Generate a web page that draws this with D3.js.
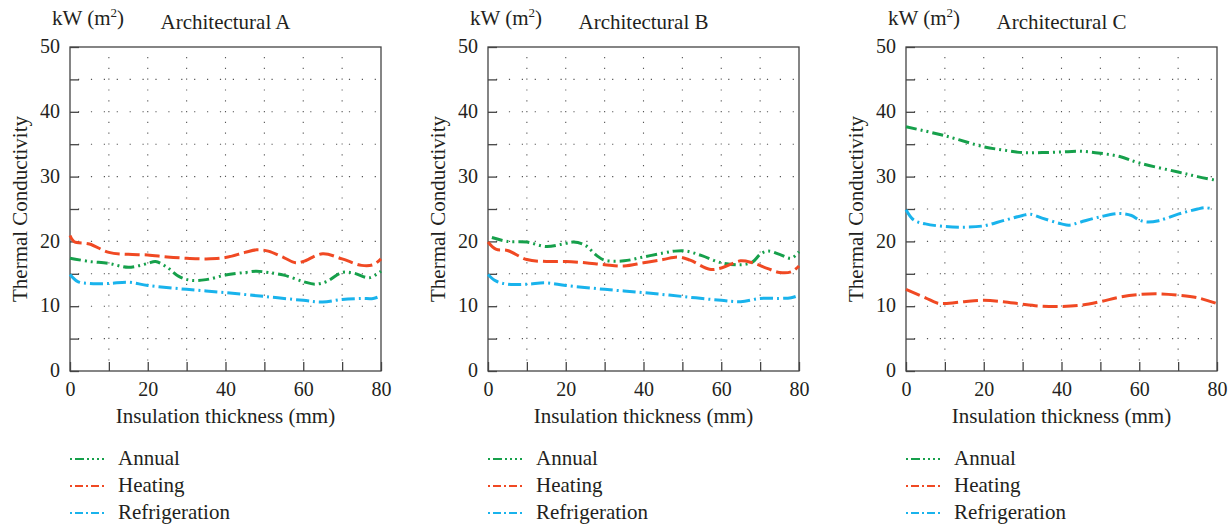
<!DOCTYPE html>
<html lang="en">
<head>
  <meta charset="UTF-8">
  <title>Thermal conductivity</title>
  <script src="https://cdn.jsdelivr.net/npm/d3@7"></script>
  <style>
  body { margin: 0; background: #fff; }
  .axis path, .axis line { stroke: #444; }
  </style>
</head>
<body>
  <svg id="chart" width="1232" height="527"></svg>
  <script>
  // [insulation thickness (mm), value]
  const annualA = [[0,17.4],[5,16.9],[10,16.6],[15,16.0],[20,16.6],[22,16.9],[25,16.0],[28,14.6],[31,14.0],[35,14.1],[40,14.8],[45,15.2],[48,15.4],[51,15.2],[55,14.8],[60,13.8],[63,13.4],[66,13.8],[70,15.2],[73,15.1],[77,14.4],[80,15.4]];
  const heatingA = [[0,20.9],[1,20.0],[5,19.6],[10,18.3],[15,18.0],[20,17.9],[25,17.6],[30,17.4],[35,17.3],[40,17.5],[45,18.3],[48,18.7],[51,18.5],[55,17.5],[58,16.7],[60,16.9],[65,18.1],[70,17.3],[75,16.3],[78,16.4],[80,17.3]];
  const refrigA = [[0,14.9],[2,13.8],[5,13.5],[10,13.5],[15,13.7],[20,13.2],[30,12.6],[40,12.1],[50,11.5],[60,10.9],[65,10.65],[70,11.05],[75,11.2],[78,11.2],[80,11.6]];

  const annualB = [[1,20.6],[5,20.0],[10,19.9],[15,19.2],[20,19.7],[22,19.9],[25,19.4],[28,17.8],[30,17.1],[35,17.0],[40,17.6],[45,18.2],[48,18.5],[51,18.5],[55,17.8],[60,16.7],[65,16.4],[68,16.8],[70,18.0],[72,18.5],[75,18.0],[78,17.4],[80,18.4]];
  const heatingB = [[0,19.9],[2,18.8],[5,18.6],[10,17.2],[15,16.9],[20,16.9],[25,16.7],[30,16.4],[35,16.2],[40,16.7],[45,17.2],[49,17.6],[52,17.1],[57,15.7],[60,15.9],[65,17.0],[68,16.7],[72,15.8],[75,15.2],[78,15.3],[80,16.2]];
  const refrigB = [[0,14.9],[2,13.9],[5,13.4],[10,13.4],[15,13.6],[20,13.2],[30,12.6],[40,12.1],[50,11.5],[60,10.9],[65,10.7],[70,11.2],[75,11.2],[78,11.3],[80,11.7]];

  const annualC = [[0,37.7],[10,36.3],[20,34.6],[25,34.1],[30,33.7],[35,33.7],[40,33.8],[45,33.9],[50,33.6],[55,33.1],[60,32.1],[70,30.7],[75,30.0],[80,29.4]];
  const heatingC = [[0,12.6],[5,11.3],[8,10.5],[10,10.4],[15,10.7],[20,10.9],[25,10.7],[30,10.3],[35,10.0],[40,9.95],[45,10.15],[50,10.7],[55,11.4],[60,11.8],[65,11.9],[70,11.7],[75,11.3],[80,10.4]];
  const refrigC = [[0,24.9],[2,23.3],[5,22.7],[10,22.3],[15,22.2],[20,22.4],[25,23.2],[30,24.0],[32,24.2],[35,23.6],[40,22.7],[42,22.5],[45,23.0],[50,23.8],[55,24.3],[58,24.0],[60,23.3],[62,23.0],[65,23.2],[70,24.2],[75,25.0],[77,25.2],[79,25.0]];

  const panelTitles = ['Architectural A', 'Architectural B', 'Architectural C'];
  const seriesNames = ['Annual', 'Heating', 'Refrigeration'];
  const panelData = [
    [annualA, heatingA, refrigA],
    [annualB, heatingB, refrigB],
    [annualC, heatingC, refrigC]
  ];
  const xTicks = [0, 20, 40, 60, 80];
  const yTicks = [0, 10, 20, 30, 40, 50];

  const colors = ['#16a04b', '#f04923', '#19b3ec'];
  const dashes = ['11,4,2,4,2,4', '15,5', '13,4,2,4'];
  const legendDashes = ['2,3,9,3,2,3,2,3', '2,3,8,3', '2,3,8,3'];
  const FONT = '"Liberation Serif", "Times New Roman", serif';
  const INK = '#231f20';

  const svg = d3.select('#chart');
  const panelLeft = [70, 488, 906];
  const plotW = 311, plotTop = 47, plotBottom = 371;

  const addText = (g, x, y, size, str, anchor) =>
    g.append('text').attr('x', x).attr('y', y)
      .attr('font-size', size).attr('text-anchor', anchor || 'start')
      .style('font-family', FONT).style('fill', INK).text(str);

  panelData.forEach((series, p) => {
    const g = svg.append('g').attr('transform', `translate(${panelLeft[p]},0)`);
    const x = d3.scaleLinear().domain([0, 80]).range([0, plotW]);
    const y = d3.scaleLinear().domain([0, 50]).range([plotBottom, plotTop]);

    // dotted grid
    d3.range(10, 80, 10).forEach(v => {
      g.append('line')
        .attr('x1', x(v)).attr('x2', x(v)).attr('y1', plotTop + 10).attr('y2', plotBottom - 8)
        .attr('stroke', '#555').attr('stroke-width', 1.1)
        .attr('stroke-dasharray', '1.2,9.6');
    });
    d3.range(5, 50, 5).forEach(v => {
      g.append('line')
        .attr('x1', 8).attr('x2', plotW - 4).attr('y1', y(v)).attr('y2', y(v))
        .attr('stroke', '#555').attr('stroke-width', 1.1)
        .attr('stroke-dasharray', '1.2,11.7');
    });

    // frame
    g.append('rect')
      .attr('x', 0).attr('y', plotTop).attr('width', plotW).attr('height', plotBottom - plotTop)
      .attr('fill', 'none').attr('stroke', '#444').attr('stroke-width', 1.3);

    // axes (inner ticks)
    g.append('g').attr('class', 'axis')
      .attr('transform', `translate(0,${plotBottom})`)
      .call(d3.axisBottom(x).tickValues(d3.range(0, 81, 10)).tickSizeInner(-9).tickSizeOuter(0)
        .tickFormat(d => xTicks.includes(d) ? d : ''))
      .call(a => a.select('.domain').remove())
      .call(a => a.selectAll('line').attr('stroke-width', 1.3))
      .call(a => a.selectAll('text').attr('font-size', 20).attr('y', 25).attr('dy', null)
        .style('font-family', FONT).style('fill', INK));

    g.append('g').attr('class', 'axis')
      .call(d3.axisLeft(y).tickValues(d3.range(0, 51, 5)).tickSizeInner(-9).tickSizeOuter(0)
        .tickFormat(d => yTicks.includes(d) ? d : ''))
      .call(a => a.select('.domain').remove())
      .call(a => a.selectAll('line').attr('stroke-width', 1.3))
      .call(a => a.selectAll('text').attr('font-size', 20).attr('x', -10).attr('dy', '0.28em')
        .style('font-family', FONT).style('fill', INK));

    // lines
    const line = d3.line()
      .x(d => x(d[0])).y(d => y(d[1]))
      .curve(d3.curveCatmullRom.alpha(0.5));
    series.forEach((s, i) => {
      g.append('path')
        .datum(s)
        .attr('d', line)
        .attr('fill', 'none')
        .attr('stroke', colors[i])
        .attr('stroke-width', 3)
        .attr('stroke-dasharray', dashes[i]);
    });

    // unit label with superscript
    const unit = addText(g, -18, 25, 21, 'kW (m');
    unit.append('tspan').attr('dy', -8).attr('font-size', 13).text('2');
    unit.append('tspan').attr('dy', 8).text(')');

    addText(g, plotW / 2, 29, 21, panelTitles[p], 'middle');
    addText(g, plotW / 2, 423, 21, 'Insulation thickness (mm)', 'middle');
    addText(g, 0, 0, 21, 'Thermal Conductivity', 'middle')
      .attr('transform', `translate(-43,${(plotTop + plotBottom) / 2}) rotate(-90)`);

    // legend
    seriesNames.forEach((name, i) => {
      const ly = 459 + i * 27;
      g.append('line')
        .attr('x1', 0).attr('x2', 34).attr('y1', ly).attr('y2', ly)
        .attr('stroke', colors[i]).attr('stroke-width', 2)
        .attr('stroke-dasharray', legendDashes[i]);
      addText(g, 48, ly + 6, 21, name);
    });
  });
  </script>
</body>
</html>
